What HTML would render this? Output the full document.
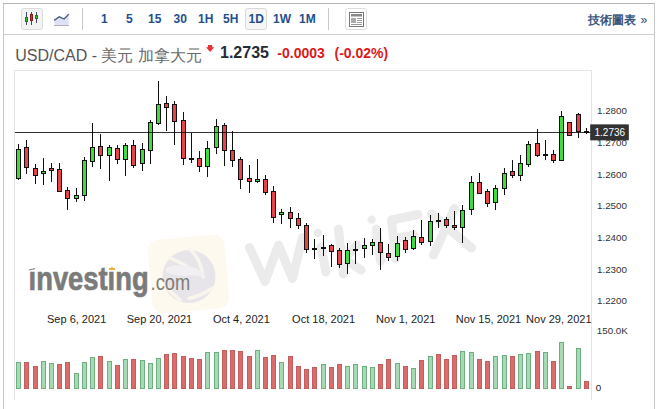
<!DOCTYPE html>
<html><head><meta charset="utf-8"><style>
html,body{margin:0;padding:0;background:#fff;}
body{width:659px;height:409px;overflow:hidden;position:relative;font-family:"Liberation Sans",sans-serif;}
svg{position:absolute;left:0;top:0;}
</style></head><body>
<svg width="659" height="409" viewBox="0 0 659 409">
<!-- frame -->
<rect x="3" y="3" width="1" height="406" fill="#c6c6c6"/>
<rect x="3" y="3" width="652" height="1" fill="#b4b4b4"/>
<rect x="654" y="3" width="1" height="406" fill="#c6c6c6"/>
<rect x="4" y="34" width="650" height="1" fill="#cfcfcf"/>
<!-- toolbar -->
<rect x="21.5" y="8.5" width="21" height="21" rx="2" fill="#f3f3f3" stroke="#dcdcdc"/>
<g>
 <rect x="26" y="12" width="1" height="13" fill="#3e4a63"/>
 <rect x="25.5" y="17.5" width="2" height="4" fill="#2fc42f" stroke="#1f7a1f" stroke-width="1"/>
 <rect x="31" y="12" width="1" height="13" fill="#3e4a63"/>
 <rect x="30.5" y="14.5" width="2" height="6" fill="#e03030" stroke="#8a1a1a" stroke-width="1"/>
 <rect x="36" y="12" width="1" height="11" fill="#3e4a63"/>
 <rect x="35.5" y="15.5" width="2" height="3" fill="#2fc42f" stroke="#1f7a1f" stroke-width="1"/>
</g>
<path d="M54.2 20.4 L59.3 16.8 L64.1 19 L68.7 14.2 L68.7 25.4 L54.2 25.4 Z" fill="#dfe2f4"/>
<rect x="54" y="25" width="15" height="1" fill="#b0b0b8"/>
<path d="M54.2 20.4 L59.3 16.8 L64.1 19 L68.7 14.2" fill="none" stroke="#475a85" stroke-width="1.3"/>
<rect x="82" y="8" width="1" height="22" fill="#c8c8c8"/>
<g font-family="Liberation Sans" font-weight="bold" font-size="12" fill="#1f4f8c">
 <rect x="245.5" y="8.5" width="21" height="21" rx="2" fill="#f6f6f7" stroke="#dadada"/>
 <text x="101" y="22.8">1</text>
 <text x="126" y="22.8">5</text>
 <text x="148" y="22.8">15</text>
 <text x="173.5" y="22.8">30</text>
 <text x="198" y="22.8">1H</text>
 <text x="223" y="22.8">5H</text>
 <text x="248.5" y="22.8">1D</text>
 <text x="273" y="22.8">1W</text>
 <text x="299" y="22.8">1M</text>
</g>
<rect x="328" y="8" width="1" height="22" fill="#c8c8c8"/>
<rect x="345.5" y="8.5" width="21" height="21" rx="2" fill="#fff" stroke="#dcdcdc"/>
<rect x="349.5" y="12.5" width="14" height="14" fill="#fff" stroke="#777"/>
<rect x="351" y="14" width="11" height="2.5" fill="#888"/>
<rect x="351" y="18" width="5" height="5" fill="#aaa"/>
<rect x="357" y="18" width="5" height="1" fill="#999"/>
<rect x="357" y="20" width="5" height="1" fill="#999"/>
<rect x="357" y="22" width="5" height="1" fill="#999"/>
<rect x="351" y="24" width="11" height="1" fill="#999"/>
<text x="635.5" y="24" text-anchor="end" font-family="Liberation Sans" font-size="12" fill="#264872" stroke="#264872" stroke-width="0.35">技術圖表</text><text x="647.3" y="24" text-anchor="end" font-family="Liberation Sans" font-size="12" fill="#264872">»</text>
<!-- title -->
<text x="15.2" y="60.8" font-family="Liberation Sans" font-size="16" fill="#555">USD/CAD - <tspan fill="#6a6a6a">美元 加拿大元</tspan></text>
<path d="M208 44.9 H212.2 V47.2 H214.2 L210.1 52 L206 47.2 H208 Z" fill="#e8323a"/>
<text x="220" y="57.7" font-family="Liberation Sans" font-weight="bold" font-size="16" fill="#262b33">1.2735</text>
<text x="277.3" y="57.9" font-family="Liberation Sans" font-weight="bold" font-size="14" fill="#dc1a1a">-0.0003</text>
<text x="334.5" y="57.9" font-family="Liberation Sans" font-weight="bold" font-size="14" fill="#dc1a1a">(-0.02%)</text>

<g>
  <rect x="150" y="237" width="77" height="74" rx="11" fill="#fdf9ef" transform="rotate(-5 188 274)"/>
  <circle cx="189" cy="276.5" r="26.5" fill="#e7e5e9"/>
  <g fill="none" stroke="#faf5ec" stroke-width="3.5" stroke-linecap="round">
    <path d="M190 249.5 Q201 259 203 277"/>
    <path d="M212.5 288 Q201 296 189 298.5"/>
    <path d="M165 286 Q172 293 180 300"/>
    <path d="M170 258 Q180 262 186 266"/>
  </g>
  <path d="M166 268 Q180 262 196 268 Q204 272 206 278 Q196 274 186 276 Q176 276 166 272 Z" fill="#f1eff1"/>
  <g fill="none" stroke="#ebebeb" stroke-width="9" stroke-linecap="round" stroke-linejoin="round">
    <path d="M249.5 247.5 L265 281.5 L278.5 245 L292.5 278.5 L302.5 237.5"/>
    <path d="M321 247 L326 272"/>
    <path d="M338.5 229 L343.5 274 M357 245 L344 259 L361 270"/>
    <path d="M376.5 229 L380.5 261"/>
    <path d="M391.5 220 L395.5 258.5 M391.5 220 L418 214.5 M394 238.5 L414 235"/>
    <path d="M431.5 214 L471.5 248 M454.5 208.5 L433.5 255"/>
  </g>
  <circle cx="318" cy="233" r="4.2" fill="#ebebeb"/>
  <circle cx="371.6" cy="219.6" r="4.2" fill="#ebebeb"/>
</g>

<rect x="14" y="70" width="1" height="330" fill="#e4e4e4"/>
<rect x="14" y="70" width="578" height="1" fill="#e4e4e4"/>
<rect x="591" y="70" width="1" height="330" fill="#e4e4e4"/>
<g font-family="Liberation Sans">
<text x="28.6" y="289.8" font-weight="bold" font-size="33" textLength="120" lengthAdjust="spacingAndGlyphs" fill="#7b7b7b" stroke="#7b7b7b" stroke-width="0.7">ınvestıng</text>
<text x="150.6" y="289.7" font-size="22" textLength="39.5" lengthAdjust="spacingAndGlyphs" fill="#7e7c76">.com</text>
</g>
<path d="M28.9 269.6 L35 267.9 L35 269.2 L28.9 270.6 Z" fill="#8a8a8a"/>
<rect x="109" y="268" width="6" height="2" fill="#f2ad3c"/>
<rect x="111" y="267" width="2" height="1" fill="#f5c060"/>

<rect x="16.5" y="362.5" width="4" height="26" fill="#a6dab4" stroke="#6fae80" stroke-width="1"/>
<rect x="24.5" y="362.5" width="4" height="26" fill="#dc6c6c" stroke="#c25e5e" stroke-width="1"/>
<rect x="33.5" y="366.5" width="4" height="22" fill="#dc6c6c" stroke="#c25e5e" stroke-width="1"/>
<rect x="41.5" y="361.5" width="4" height="27" fill="#a6dab4" stroke="#6fae80" stroke-width="1"/>
<rect x="49.5" y="363.5" width="4" height="25" fill="#a6dab4" stroke="#6fae80" stroke-width="1"/>
<rect x="57.5" y="364.5" width="4" height="24" fill="#dc6c6c" stroke="#c25e5e" stroke-width="1"/>
<rect x="65.5" y="362.5" width="4" height="26" fill="#dc6c6c" stroke="#c25e5e" stroke-width="1"/>
<rect x="74.5" y="373.5" width="4" height="15" fill="#a6dab4" stroke="#6fae80" stroke-width="1"/>
<rect x="82.5" y="362.5" width="4" height="26" fill="#a6dab4" stroke="#6fae80" stroke-width="1"/>
<rect x="90.5" y="357.5" width="4" height="31" fill="#a6dab4" stroke="#6fae80" stroke-width="1"/>
<rect x="98.5" y="356.5" width="4" height="32" fill="#dc6c6c" stroke="#c25e5e" stroke-width="1"/>
<rect x="107.5" y="361.5" width="4" height="27" fill="#a6dab4" stroke="#6fae80" stroke-width="1"/>
<rect x="115.5" y="365.5" width="4" height="23" fill="#dc6c6c" stroke="#c25e5e" stroke-width="1"/>
<rect x="123.5" y="359.5" width="4" height="29" fill="#a6dab4" stroke="#6fae80" stroke-width="1"/>
<rect x="131.5" y="359.5" width="4" height="29" fill="#dc6c6c" stroke="#c25e5e" stroke-width="1"/>
<rect x="140.5" y="360.5" width="4" height="28" fill="#a6dab4" stroke="#6fae80" stroke-width="1"/>
<rect x="148.5" y="363.5" width="4" height="25" fill="#a6dab4" stroke="#6fae80" stroke-width="1"/>
<rect x="156.5" y="358.5" width="4" height="30" fill="#a6dab4" stroke="#6fae80" stroke-width="1"/>
<rect x="164.5" y="354.5" width="4" height="34" fill="#dc6c6c" stroke="#c25e5e" stroke-width="1"/>
<rect x="172.5" y="353.5" width="4" height="35" fill="#dc6c6c" stroke="#c25e5e" stroke-width="1"/>
<rect x="181.5" y="356.5" width="4" height="32" fill="#dc6c6c" stroke="#c25e5e" stroke-width="1"/>
<rect x="189.5" y="358.5" width="4" height="30" fill="#dc6c6c" stroke="#c25e5e" stroke-width="1"/>
<rect x="197.5" y="359.5" width="4" height="29" fill="#dc6c6c" stroke="#c25e5e" stroke-width="1"/>
<rect x="205.5" y="352.5" width="4" height="36" fill="#a6dab4" stroke="#6fae80" stroke-width="1"/>
<rect x="214.5" y="352.5" width="4" height="36" fill="#a6dab4" stroke="#6fae80" stroke-width="1"/>
<rect x="222.5" y="350.5" width="4" height="38" fill="#dc6c6c" stroke="#c25e5e" stroke-width="1"/>
<rect x="230.5" y="350.5" width="4" height="38" fill="#dc6c6c" stroke="#c25e5e" stroke-width="1"/>
<rect x="238.5" y="351.5" width="4" height="37" fill="#dc6c6c" stroke="#c25e5e" stroke-width="1"/>
<rect x="247.5" y="356.5" width="4" height="32" fill="#dc6c6c" stroke="#c25e5e" stroke-width="1"/>
<rect x="255.5" y="350.5" width="4" height="38" fill="#a6dab4" stroke="#6fae80" stroke-width="1"/>
<rect x="263.5" y="357.5" width="4" height="31" fill="#dc6c6c" stroke="#c25e5e" stroke-width="1"/>
<rect x="271.5" y="355.5" width="4" height="33" fill="#dc6c6c" stroke="#c25e5e" stroke-width="1"/>
<rect x="279.5" y="362.5" width="4" height="26" fill="#a6dab4" stroke="#6fae80" stroke-width="1"/>
<rect x="288.5" y="356.5" width="4" height="32" fill="#dc6c6c" stroke="#c25e5e" stroke-width="1"/>
<rect x="296.5" y="366.5" width="4" height="22" fill="#dc6c6c" stroke="#c25e5e" stroke-width="1"/>
<rect x="304.5" y="369.5" width="4" height="19" fill="#dc6c6c" stroke="#c25e5e" stroke-width="1"/>
<rect x="312.5" y="367.5" width="4" height="21" fill="#dc6c6c" stroke="#c25e5e" stroke-width="1"/>
<rect x="321.5" y="364.5" width="4" height="24" fill="#a6dab4" stroke="#6fae80" stroke-width="1"/>
<rect x="329.5" y="367.5" width="4" height="21" fill="#dc6c6c" stroke="#c25e5e" stroke-width="1"/>
<rect x="337.5" y="364.5" width="4" height="24" fill="#dc6c6c" stroke="#c25e5e" stroke-width="1"/>
<rect x="345.5" y="366.5" width="4" height="22" fill="#a6dab4" stroke="#6fae80" stroke-width="1"/>
<rect x="353.5" y="364.5" width="4" height="24" fill="#a6dab4" stroke="#6fae80" stroke-width="1"/>
<rect x="362.5" y="366.5" width="4" height="22" fill="#a6dab4" stroke="#6fae80" stroke-width="1"/>
<rect x="370.5" y="367.5" width="4" height="21" fill="#a6dab4" stroke="#6fae80" stroke-width="1"/>
<rect x="378.5" y="364.5" width="4" height="24" fill="#dc6c6c" stroke="#c25e5e" stroke-width="1"/>
<rect x="386.5" y="359.5" width="4" height="29" fill="#dc6c6c" stroke="#c25e5e" stroke-width="1"/>
<rect x="395.5" y="363.5" width="4" height="25" fill="#a6dab4" stroke="#6fae80" stroke-width="1"/>
<rect x="403.5" y="366.5" width="4" height="22" fill="#dc6c6c" stroke="#c25e5e" stroke-width="1"/>
<rect x="411.5" y="368.5" width="4" height="20" fill="#a6dab4" stroke="#6fae80" stroke-width="1"/>
<rect x="419.5" y="360.5" width="4" height="28" fill="#dc6c6c" stroke="#c25e5e" stroke-width="1"/>
<rect x="428.5" y="356.5" width="4" height="32" fill="#a6dab4" stroke="#6fae80" stroke-width="1"/>
<rect x="436.5" y="354.5" width="4" height="34" fill="#dc6c6c" stroke="#c25e5e" stroke-width="1"/>
<rect x="444.5" y="359.5" width="4" height="29" fill="#dc6c6c" stroke="#c25e5e" stroke-width="1"/>
<rect x="452.5" y="355.5" width="4" height="33" fill="#dc6c6c" stroke="#c25e5e" stroke-width="1"/>
<rect x="460.5" y="351.5" width="4" height="37" fill="#a6dab4" stroke="#6fae80" stroke-width="1"/>
<rect x="469.5" y="352.5" width="4" height="36" fill="#a6dab4" stroke="#6fae80" stroke-width="1"/>
<rect x="477.5" y="359.5" width="4" height="29" fill="#dc6c6c" stroke="#c25e5e" stroke-width="1"/>
<rect x="485.5" y="361.5" width="4" height="27" fill="#dc6c6c" stroke="#c25e5e" stroke-width="1"/>
<rect x="493.5" y="356.5" width="4" height="32" fill="#a6dab4" stroke="#6fae80" stroke-width="1"/>
<rect x="502.5" y="355.5" width="4" height="33" fill="#a6dab4" stroke="#6fae80" stroke-width="1"/>
<rect x="510.5" y="356.5" width="4" height="32" fill="#dc6c6c" stroke="#c25e5e" stroke-width="1"/>
<rect x="518.5" y="354.5" width="4" height="34" fill="#a6dab4" stroke="#6fae80" stroke-width="1"/>
<rect x="526.5" y="353.5" width="4" height="35" fill="#a6dab4" stroke="#6fae80" stroke-width="1"/>
<rect x="535.5" y="351.5" width="4" height="37" fill="#dc6c6c" stroke="#c25e5e" stroke-width="1"/>
<rect x="543.5" y="352.5" width="4" height="36" fill="#a6dab4" stroke="#6fae80" stroke-width="1"/>
<rect x="551.5" y="361.5" width="4" height="27" fill="#dc6c6c" stroke="#c25e5e" stroke-width="1"/>
<rect x="559.5" y="342.5" width="4" height="46" fill="#a6dab4" stroke="#6fae80" stroke-width="1"/>
<rect x="567.5" y="386.5" width="4" height="2" fill="#dc6c6c" stroke="#c25e5e" stroke-width="1"/>
<rect x="576.5" y="348.5" width="4" height="40" fill="#a6dab4" stroke="#6fae80" stroke-width="1"/>
<rect x="584.5" y="381.5" width="4" height="7" fill="#dc6c6c" stroke="#c25e5e" stroke-width="1"/>
<rect x="18" y="144" width="1" height="36" fill="#111"/>
<rect x="16.5" y="149.5" width="4" height="29" fill="#3fdc3f" stroke="#111" stroke-width="1"/>
<rect x="26" y="140" width="1" height="34" fill="#111"/>
<rect x="24.5" y="147.5" width="4" height="20" fill="#e4444a" stroke="#111" stroke-width="1"/>
<rect x="35" y="164" width="1" height="20" fill="#111"/>
<rect x="33.5" y="168.5" width="4" height="7" fill="#e4444a" stroke="#111" stroke-width="1"/>
<rect x="43" y="158" width="1" height="27" fill="#111"/>
<rect x="41.5" y="171.5" width="4" height="2" fill="#3fdc3f" stroke="#111" stroke-width="1"/>
<rect x="51" y="163" width="1" height="19" fill="#111"/>
<rect x="49.5" y="168.5" width="4" height="2" fill="#e4444a" stroke="#111" stroke-width="1"/>
<rect x="59" y="163" width="1" height="28" fill="#111"/>
<rect x="57.5" y="169.5" width="4" height="22" fill="#e4444a" stroke="#111" stroke-width="1"/>
<rect x="67" y="187" width="1" height="23" fill="#111"/>
<rect x="65.5" y="190.5" width="4" height="8" fill="#e4444a" stroke="#111" stroke-width="1"/>
<rect x="76" y="188" width="1" height="14" fill="#111"/>
<rect x="74.5" y="195.5" width="4" height="3" fill="#3fdc3f" stroke="#111" stroke-width="1"/>
<rect x="84" y="157" width="1" height="44" fill="#111"/>
<rect x="82.5" y="160.5" width="4" height="35" fill="#3fdc3f" stroke="#111" stroke-width="1"/>
<rect x="92" y="123" width="1" height="44" fill="#111"/>
<rect x="90.5" y="147.5" width="4" height="14" fill="#3fdc3f" stroke="#111" stroke-width="1"/>
<rect x="100" y="134" width="1" height="35" fill="#111"/>
<rect x="98.5" y="146.5" width="4" height="9" fill="#e4444a" stroke="#111" stroke-width="1"/>
<rect x="109" y="145" width="1" height="36" fill="#111"/>
<rect x="107.5" y="147.5" width="4" height="8" fill="#3fdc3f" stroke="#111" stroke-width="1"/>
<rect x="117" y="145" width="1" height="19" fill="#111"/>
<rect x="115.5" y="148.5" width="4" height="11" fill="#e4444a" stroke="#111" stroke-width="1"/>
<rect x="125" y="143" width="1" height="33" fill="#111"/>
<rect x="123.5" y="145.5" width="4" height="14" fill="#3fdc3f" stroke="#111" stroke-width="1"/>
<rect x="133" y="140" width="1" height="28" fill="#111"/>
<rect x="131.5" y="145.5" width="4" height="20" fill="#e4444a" stroke="#111" stroke-width="1"/>
<rect x="142" y="143" width="1" height="28" fill="#111"/>
<rect x="140.5" y="149.5" width="4" height="14" fill="#3fdc3f" stroke="#111" stroke-width="1"/>
<rect x="150" y="120" width="1" height="44" fill="#111"/>
<rect x="148.5" y="122.5" width="4" height="28" fill="#3fdc3f" stroke="#111" stroke-width="1"/>
<rect x="158" y="81" width="1" height="44" fill="#111"/>
<rect x="156.5" y="104.5" width="4" height="19" fill="#3fdc3f" stroke="#111" stroke-width="1"/>
<rect x="166" y="96" width="1" height="35" fill="#111"/>
<rect x="164.5" y="103.5" width="4" height="4" fill="#e4444a" stroke="#111" stroke-width="1"/>
<rect x="174" y="101" width="1" height="44" fill="#111"/>
<rect x="172.5" y="104.5" width="4" height="17" fill="#e4444a" stroke="#111" stroke-width="1"/>
<rect x="183" y="112" width="1" height="53" fill="#111"/>
<rect x="181.5" y="120.5" width="4" height="38" fill="#e4444a" stroke="#111" stroke-width="1"/>
<rect x="191" y="133" width="1" height="30" fill="#111"/>
<rect x="189" y="158" width="5" height="2" fill="#111"/>
<rect x="199" y="151" width="1" height="21" fill="#111"/>
<rect x="197.5" y="158.5" width="4" height="8" fill="#e4444a" stroke="#111" stroke-width="1"/>
<rect x="207" y="141" width="1" height="36" fill="#111"/>
<rect x="205.5" y="148.5" width="4" height="18" fill="#3fdc3f" stroke="#111" stroke-width="1"/>
<rect x="216" y="119" width="1" height="35" fill="#111"/>
<rect x="214.5" y="126.5" width="4" height="21" fill="#3fdc3f" stroke="#111" stroke-width="1"/>
<rect x="224" y="123" width="1" height="43" fill="#111"/>
<rect x="222.5" y="125.5" width="4" height="25" fill="#e4444a" stroke="#111" stroke-width="1"/>
<rect x="232" y="131" width="1" height="36" fill="#111"/>
<rect x="230.5" y="150.5" width="4" height="10" fill="#e4444a" stroke="#111" stroke-width="1"/>
<rect x="240" y="157" width="1" height="32" fill="#111"/>
<rect x="238.5" y="159.5" width="4" height="20" fill="#e4444a" stroke="#111" stroke-width="1"/>
<rect x="249" y="165" width="1" height="28" fill="#111"/>
<rect x="247.5" y="178.5" width="4" height="3" fill="#e4444a" stroke="#111" stroke-width="1"/>
<rect x="257" y="159" width="1" height="24" fill="#111"/>
<rect x="255.5" y="179.5" width="4" height="2" fill="#3fdc3f" stroke="#111" stroke-width="1"/>
<rect x="265" y="175" width="1" height="20" fill="#111"/>
<rect x="263.5" y="179.5" width="4" height="13" fill="#e4444a" stroke="#111" stroke-width="1"/>
<rect x="273" y="186" width="1" height="37" fill="#111"/>
<rect x="271.5" y="191.5" width="4" height="26" fill="#e4444a" stroke="#111" stroke-width="1"/>
<rect x="281" y="209" width="1" height="15" fill="#111"/>
<rect x="279.5" y="212.5" width="4" height="2" fill="#3fdc3f" stroke="#111" stroke-width="1"/>
<rect x="290" y="207" width="1" height="21" fill="#111"/>
<rect x="288.5" y="212.5" width="4" height="6" fill="#e4444a" stroke="#111" stroke-width="1"/>
<rect x="298" y="213" width="1" height="16" fill="#111"/>
<rect x="296.5" y="218.5" width="4" height="7" fill="#e4444a" stroke="#111" stroke-width="1"/>
<rect x="306" y="223" width="1" height="30" fill="#111"/>
<rect x="304.5" y="225.5" width="4" height="24" fill="#e4444a" stroke="#111" stroke-width="1"/>
<rect x="314" y="239" width="1" height="20" fill="#111"/>
<rect x="312" y="248" width="5" height="2" fill="#111"/>
<rect x="323" y="235" width="1" height="21" fill="#111"/>
<rect x="321" y="247" width="5" height="2" fill="#111"/>
<rect x="331" y="244" width="1" height="23" fill="#111"/>
<rect x="329.5" y="245.5" width="4" height="6" fill="#e4444a" stroke="#111" stroke-width="1"/>
<rect x="339" y="248" width="1" height="20" fill="#111"/>
<rect x="337.5" y="250.5" width="4" height="14" fill="#e4444a" stroke="#111" stroke-width="1"/>
<rect x="347" y="243" width="1" height="31" fill="#111"/>
<rect x="345.5" y="250.5" width="4" height="13" fill="#3fdc3f" stroke="#111" stroke-width="1"/>
<rect x="355" y="241" width="1" height="23" fill="#111"/>
<rect x="353" y="249" width="5" height="2" fill="#111"/>
<rect x="364" y="238" width="1" height="20" fill="#111"/>
<rect x="362.5" y="245.5" width="4" height="3" fill="#3fdc3f" stroke="#111" stroke-width="1"/>
<rect x="372" y="239" width="1" height="16" fill="#111"/>
<rect x="370.5" y="242.5" width="4" height="3" fill="#3fdc3f" stroke="#111" stroke-width="1"/>
<rect x="380" y="228" width="1" height="42" fill="#111"/>
<rect x="378.5" y="242.5" width="4" height="10" fill="#e4444a" stroke="#111" stroke-width="1"/>
<rect x="388" y="244" width="1" height="17" fill="#111"/>
<rect x="386.5" y="253.5" width="4" height="4" fill="#e4444a" stroke="#111" stroke-width="1"/>
<rect x="397" y="236" width="1" height="25" fill="#111"/>
<rect x="395.5" y="243.5" width="4" height="13" fill="#3fdc3f" stroke="#111" stroke-width="1"/>
<rect x="405" y="237" width="1" height="16" fill="#111"/>
<rect x="403.5" y="240.5" width="4" height="9" fill="#e4444a" stroke="#111" stroke-width="1"/>
<rect x="413" y="230" width="1" height="20" fill="#111"/>
<rect x="411.5" y="236.5" width="4" height="12" fill="#3fdc3f" stroke="#111" stroke-width="1"/>
<rect x="421" y="220" width="1" height="25" fill="#111"/>
<rect x="419.5" y="237.5" width="4" height="5" fill="#e4444a" stroke="#111" stroke-width="1"/>
<rect x="430" y="215" width="1" height="31" fill="#111"/>
<rect x="428.5" y="221.5" width="4" height="20" fill="#3fdc3f" stroke="#111" stroke-width="1"/>
<rect x="438" y="213" width="1" height="15" fill="#111"/>
<rect x="436" y="220" width="5" height="2" fill="#111"/>
<rect x="446" y="217" width="1" height="11" fill="#111"/>
<rect x="444.5" y="219.5" width="4" height="6" fill="#e4444a" stroke="#111" stroke-width="1"/>
<rect x="454" y="211" width="1" height="19" fill="#111"/>
<rect x="452.5" y="225.5" width="4" height="2" fill="#e4444a" stroke="#111" stroke-width="1"/>
<rect x="462" y="205" width="1" height="38" fill="#111"/>
<rect x="460.5" y="210.5" width="4" height="17" fill="#3fdc3f" stroke="#111" stroke-width="1"/>
<rect x="471" y="176" width="1" height="39" fill="#111"/>
<rect x="469.5" y="182.5" width="4" height="27" fill="#3fdc3f" stroke="#111" stroke-width="1"/>
<rect x="479" y="173" width="1" height="21" fill="#111"/>
<rect x="477.5" y="182.5" width="4" height="11" fill="#e4444a" stroke="#111" stroke-width="1"/>
<rect x="487" y="189" width="1" height="18" fill="#111"/>
<rect x="485.5" y="191.5" width="4" height="12" fill="#e4444a" stroke="#111" stroke-width="1"/>
<rect x="495" y="185" width="1" height="25" fill="#111"/>
<rect x="493.5" y="188.5" width="4" height="14" fill="#3fdc3f" stroke="#111" stroke-width="1"/>
<rect x="504" y="168" width="1" height="27" fill="#111"/>
<rect x="502.5" y="173.5" width="4" height="15" fill="#3fdc3f" stroke="#111" stroke-width="1"/>
<rect x="512" y="160" width="1" height="18" fill="#111"/>
<rect x="510.5" y="171.5" width="4" height="4" fill="#e4444a" stroke="#111" stroke-width="1"/>
<rect x="520" y="155" width="1" height="26" fill="#111"/>
<rect x="518.5" y="163.5" width="4" height="12" fill="#3fdc3f" stroke="#111" stroke-width="1"/>
<rect x="528" y="141" width="1" height="26" fill="#111"/>
<rect x="526.5" y="144.5" width="4" height="20" fill="#3fdc3f" stroke="#111" stroke-width="1"/>
<rect x="537" y="129" width="1" height="28" fill="#111"/>
<rect x="535.5" y="143.5" width="4" height="12" fill="#e4444a" stroke="#111" stroke-width="1"/>
<rect x="545" y="140" width="1" height="20" fill="#111"/>
<rect x="543" y="154" width="5" height="2" fill="#111"/>
<rect x="553" y="150" width="1" height="13" fill="#111"/>
<rect x="551.5" y="154.5" width="4" height="6" fill="#e4444a" stroke="#111" stroke-width="1"/>
<rect x="561" y="111" width="1" height="50" fill="#111"/>
<rect x="559.5" y="116.5" width="4" height="44" fill="#3fdc3f" stroke="#111" stroke-width="1"/>
<rect x="569" y="122" width="1" height="14" fill="#111"/>
<rect x="567.5" y="122.5" width="4" height="13" fill="#e4444a" stroke="#111" stroke-width="1"/>
<rect x="578" y="113" width="1" height="25" fill="#111"/>
<rect x="576.5" y="114.5" width="4" height="17" fill="#e4444a" stroke="#111" stroke-width="1"/>
<rect x="586" y="128" width="1" height="6" fill="#111"/>
<rect x="584" y="131" width="5" height="2" fill="#111"/>
<rect x="15" y="132" width="576" height="1" fill="#000" fill-opacity="0.8"/>
<rect x="590.4" y="124.6" width="38.2" height="15.6" fill="#333"/>
<text x="594.5" y="136.3" font-family="Liberation Sans" font-size="10" fill="#fff">1.2736</text>
<text x="597" y="113.8" font-family="Liberation Sans" font-size="9.8" fill="#333">1.2800</text>
<text x="597" y="145.8" font-family="Liberation Sans" font-size="9.8" fill="#333">1.2700</text>
<text x="597" y="177.8" font-family="Liberation Sans" font-size="9.8" fill="#333">1.2600</text>
<text x="597" y="209.4" font-family="Liberation Sans" font-size="9.8" fill="#333">1.2500</text>
<text x="597" y="241.1" font-family="Liberation Sans" font-size="9.8" fill="#333">1.2400</text>
<text x="597" y="272.6" font-family="Liberation Sans" font-size="9.8" fill="#333">1.2300</text>
<text x="597" y="304.4" font-family="Liberation Sans" font-size="9.8" fill="#333">1.2200</text>
<rect x="590.4" y="124.6" width="38.2" height="15.6" fill="#333"/>
<text x="594.5" y="136.3" font-family="Liberation Sans" font-size="10" fill="#fff">1.2736</text>
<text x="596.8" y="334.1" font-family="Liberation Sans" font-size="9.8" fill="#333">150.0K</text>
<text x="595.8" y="391" font-family="Liberation Sans" font-size="9.8" fill="#222">0</text>
<text x="47" y="323" font-family="Liberation Sans" font-size="11" fill="#222">Sep 6, 2021</text>
<text x="126.7" y="323" font-family="Liberation Sans" font-size="11" fill="#222">Sep 20, 2021</text>
<text x="212.9" y="323" font-family="Liberation Sans" font-size="11" fill="#222">Oct 4, 2021</text>
<text x="292.1" y="323" font-family="Liberation Sans" font-size="11" fill="#222">Oct 18, 2021</text>
<text x="376.1" y="323" font-family="Liberation Sans" font-size="11" fill="#222">Nov 1, 2021</text>
<text x="455.7" y="323" font-family="Liberation Sans" font-size="11" fill="#222">Nov 15, 2021</text>
<text x="526.1" y="323" font-family="Liberation Sans" font-size="11" fill="#222">Nov 29, 2021</text>
</svg>
</body></html>
